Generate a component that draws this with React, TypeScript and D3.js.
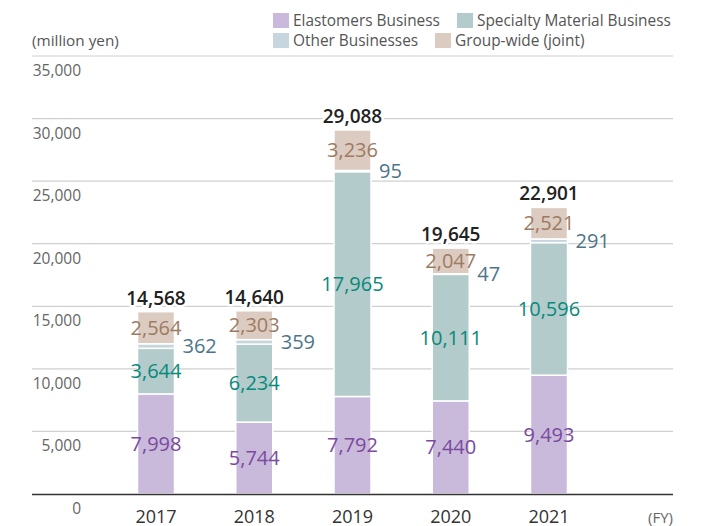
import React from "react";
import * as d3 from "d3";

const years = ["2017", "2018", "2019", "2020", "2021"];
const elastomers = [7998, 5744, 7792, 7440, 9493];
const specialty = [3644, 6234, 17965, 10111, 10596];
const other = [362, 359, 95, 47, 291];
const groupWide = [2564, 2303, 3236, 2047, 2521];
const totals = [14568, 14640, 29088, 19645, 22901];
const yTicks = [0, 5000, 10000, 15000, 20000, 25000, 30000, 35000];

const seriesNames = ["Elastomers Business", "Specialty Material Business", "Other Businesses", "Group-wide (joint)"];
const fills = ["#c9badc", "#b3cbcb", "#c7d5de", "#dccbc0"];
const labelColors = ["#7b4a9e", "#08897b", "#4d7589", "#9c7b64"];

const W = 707, H = 526;
const FONT = "'Open Sans', 'Noto Sans', sans-serif";

export default function App() {
  const y = d3.scaleLinear().domain([0, 35000]).range([494, 56]);
  const x = d3.scalePoint<string>().domain(years).range([156, 549]);
  const barW = 37;
  const data = years.map((yr, i) => ({ year: yr, Elastomers: elastomers[i], Specialty: specialty[i], Other: other[i], Group: groupWide[i] }));
  const keys = ["Elastomers", "Specialty", "Other", "Group"];
  const stack = d3.stack<any>().keys(keys)(data);
  const fmt = d3.format(",");
  const gridX0 = 32, gridX1 = 673;

  return (
    <svg width={W} height={H} style={{ position: "absolute", left: 0, top: 0, fontFamily: FONT }}>
      <rect width={W} height={H} fill="#fff" />
      {/* legend */}
      {[
        { i: 0, x: 273, y: 13 },
        { i: 1, x: 457, y: 13 },
        { i: 2, x: 273, y: 33 },
        { i: 3, x: 435, y: 33 },
      ].map((l) => (
        <g key={l.i}>
          <rect x={l.x} y={l.y} width={16} height={15} fill={fills[l.i]} />
          <text x={l.x + 20} y={l.y + 13} fontSize={15.4} fill="#555">{seriesNames[l.i]}</text>
        </g>
      ))}
      <text x={32} y={46} fontSize={15.3} fill="#555">(million yen)</text>
      {/* gridlines */}
      {yTicks.filter((t) => t > 0).map((t) => (
        <line key={t} x1={gridX0} x2={gridX1} y1={y(t)} y2={y(t)} stroke="#d0d0d0" strokeWidth={1.2} />
      ))}
      {yTicks.map((t) => (
        <text key={"l" + t} x={81} y={y(t) + 20} fontSize={15.5} fill="#666" textAnchor="end">{fmt(t)}</text>
      ))}
      {/* bars */}
      {stack.map((s, si) => (
        <g key={s.key}>
          {s.map((d, i) => (
            <rect key={i} x={(x(years[i]) as number) - barW / 2} width={barW} y={y(d[1])} height={y(d[0]) - y(d[1])}
              fill={fills[si]} stroke="#fff" strokeWidth={1.5} />
          ))}
        </g>
      ))}
      <line x1={gridX0} x2={gridX1} y1={494.5} y2={494.5} stroke="#333" strokeWidth={1.5} />
      {/* segment labels */}
      {stack.map((s, si) => (
        <g key={"t" + s.key}>
          {s.map((d, i) => {
            const cx = x(years[i]) as number;
            const cy = y((d[0] + d[1]) / 2);
            const v = d[1] - d[0];
            if (si === 2) {
              return (
                <text key={i} x={cx + barW / 2 + 8} y={cy + 7} fontSize={20} fill={labelColors[si]}>{fmt(v)}</text>
              );
            }
            return (
              <text key={i} x={cx} y={cy + 7} fontSize={20} fill={labelColors[si]} textAnchor="middle">{fmt(v)}</text>
            );
          })}
        </g>
      ))}
      {/* totals */}
      {years.map((yr, i) => (
        <text key={"tot" + yr} x={x(yr) as number} y={y(totals[i]) - 7} fontSize={19} fontWeight={600} fill="#222"
          textAnchor="middle" stroke="#fff" strokeWidth={5} paintOrder="stroke" strokeLinejoin="round">{fmt(totals[i])}</text>
      ))}
      {/* x labels */}
      {years.map((yr) => (
        <text key={"x" + yr} x={x(yr) as number} y={523} fontSize={18} fill="#333" textAnchor="middle">{yr}</text>
      ))}
      <text x={673} y={523} fontSize={15} fill="#666" textAnchor="end">(FY)</text>
    </svg>
  );
}
